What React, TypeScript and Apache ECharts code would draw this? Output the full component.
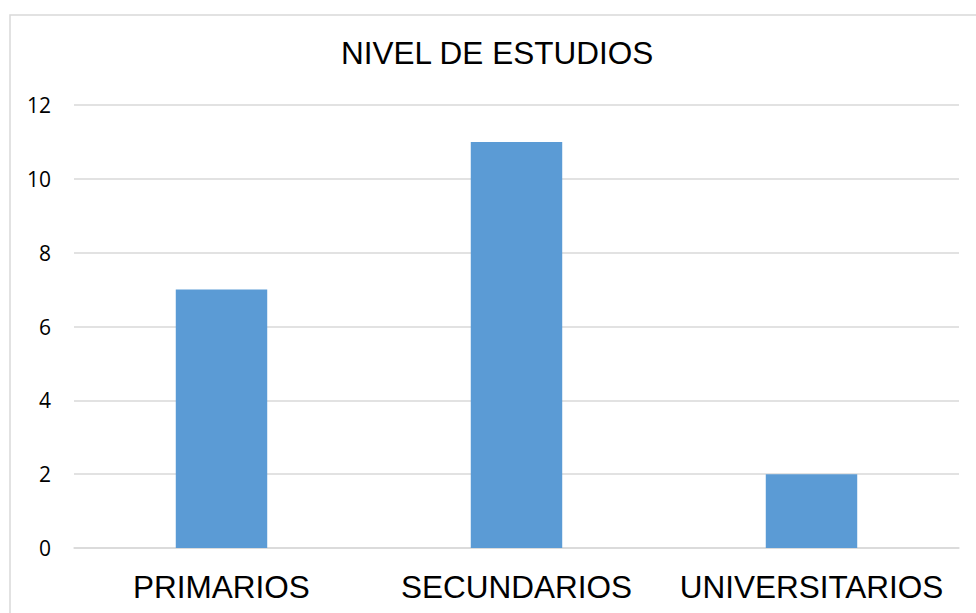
import React, { useEffect, useRef } from "react";
import * as echarts from "echarts";

const categories = ["PRIMARIOS", "SECUNDARIOS", "UNIVERSITARIOS"];
const values = [7, 11, 2];
const titleText = "NIVEL DE ESTUDIOS";

export default function App() {
  const ref = useRef<HTMLDivElement>(null);
  useEffect(() => {
    if (!ref.current) return;
    const chart = echarts.init(ref.current, null, { renderer: "svg" });
    chart.setOption({
      animation: false,
      backgroundColor: "#ffffff",
      title: {
        text: titleText,
        left: 341,
        top: 37,
        padding: 0,
        textStyle: {
          fontFamily: "Liberation Sans, Arial, sans-serif",
          fontSize: 31.5,
          fontWeight: "normal",
          color: "#000000",
        },
      },
      graphic: [
        {
          type: "rect",
          shape: { x: 10, y: 15, width: 1000, height: 700 },
          style: { fill: "none", stroke: "#d9d9d9", lineWidth: 1.5 },
          silent: true,
          z: -1,
        },
      ],
      grid: { left: 74, right: 17, top: 105, bottom: 65, containLabel: false },
      xAxis: {
        type: "category",
        data: categories,
        axisLine: { show: true, lineStyle: { color: "#d9d9d9", width: 1.5 } },
        axisTick: { show: false },
        axisLabel: {
          margin: 23,
          fontFamily: "Liberation Sans, Arial, sans-serif",
          fontSize: 31.5,
          color: "#000000",
          interval: 0,
        },
      },
      yAxis: {
        type: "value",
        min: 0,
        max: 12,
        interval: 2,
        axisLine: { show: false },
        axisTick: { show: false },
        splitLine: { lineStyle: { color: "#d9d9d9", width: 1.5 } },
        axisLabel: {
          margin: 23,
          fontFamily: "Open Sans, sans-serif",
          fontSize: 21,
          color: "#000000",
        },
      },
      series: [
        {
          type: "bar",
          data: values,
          barWidth: "31%",
          itemStyle: { color: "#5b9bd5" },
        },
      ],
    });
    return () => chart.dispose();
  }, []);
  return (
    <div
      ref={ref}
      style={{ position: "absolute", left: 0, top: 0, width: 976, height: 613 }}
    />
  );
}
